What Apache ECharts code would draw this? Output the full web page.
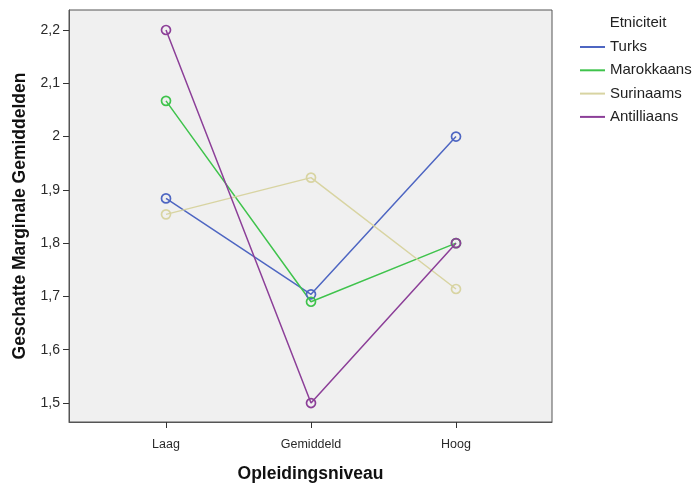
<!DOCTYPE html>
<html>
<head>
<meta charset="utf-8">
<script src="https://cdn.jsdelivr.net/npm/echarts@6/dist/echarts.min.js"></script>
<style>html,body{margin:0;padding:0;background:#fff;}#c{width:698px;height:483px;}</style>
</head>
<body>
<div id="c"></div>
<script>
var categories = ['Laag', 'Gemiddeld', 'Hoog'];
var seriesNames = ['Turks', 'Marokkaans', 'Surinaams', 'Antilliaans'];
var turks = [1.884, 1.704, 2.0];
var marokkaans = [2.067, 1.690, 1.800];
var surinaams = [1.854, 1.923, 1.714];
var antilliaans = [2.2, 1.5, 1.8];
var yTicks = [1.5, 1.6, 1.7, 1.8, 1.9, 2.0, 2.1, 2.2];
var colors = ['#4e66c2', '#3fc34c', '#d8d4a2', '#8c3f98'];
var FONT = 'Liberation Sans, Arial, sans-serif';

var allData = [turks, marokkaans, surinaams, antilliaans];
var series = allData.map(function (vals, i) {
  return {
    name: seriesNames[i],
    type: 'line',
    data: vals.map(function (v, j) { return [j, v]; }),
    symbol: 'circle',
    symbolSize: 9,
    color: colors[i],
    lineStyle: { color: colors[i], width: 1.5 },
    itemStyle: { color: 'rgba(0,0,0,0)', borderColor: colors[i], borderWidth: 1.7 },
    emphasis: { disabled: true },
    animation: false
  };
});

var chart = echarts.init(document.getElementById('c'), null, { renderer: 'canvas' });
chart.setOption({
  animation: false,
  grid: {
    left: 69, top: 10, width: 483, height: 412,
    outerBoundsMode: 'none', containLabel: false,
    show: true, backgroundColor: '#f0f0f0', borderColor: '#555', borderWidth: 1
  },
  legend: {
    orient: 'vertical',
    left: 580, top: 39, padding: 0,
    itemWidth: 25, itemHeight: 2, itemGap: 7.3,
    icon: 'rect',
    textStyle: { fontFamily: FONT, fontSize: 15, lineHeight: 16, color: '#222' },
    data: seriesNames.map(function (n, i) {
      return { name: n, itemStyle: { color: colors[i], borderWidth: 0 } };
    })
  },
  graphic: [{
    type: 'text', x: 638, y: 23,
    style: { text: 'Etniciteit', font: '15px "Liberation Sans", Arial, sans-serif', fill: '#222',
             textAlign: 'center', textVerticalAlign: 'middle' }
  }],
  xAxis: {
    type: 'value',
    min: -0.669, max: 2.662,
    splitLine: { show: false },
    axisLine: { show: true, onZero: false, lineStyle: { color: '#555' } },
    axisTick: { show: true, customValues: [0, 1, 2], length: 6, lineStyle: { color: '#333' } },
    axisLabel: {
      customValues: [0, 1, 2], margin: 16,
      formatter: function (v) { return categories[Math.round(v)]; },
      fontFamily: FONT, fontSize: 12.5, color: '#2a2a2a'
    },
    name: 'Opleidingsniveau',
    nameLocation: 'middle', nameGap: 43,
    nameTextStyle: { fontFamily: FONT, fontSize: 17.5, fontWeight: 'bold', color: '#111' }
  },
  yAxis: {
    type: 'value',
    min: 1.4644, max: 2.2375,
    splitLine: { show: false },
    axisLine: { show: true, onZero: false, lineStyle: { color: '#555' } },
    axisTick: { show: true, customValues: yTicks, length: 6, lineStyle: { color: '#333' } },
    axisLabel: {
      customValues: yTicks, margin: 9,
      formatter: function (v) {
        var s = (Math.round(v * 10) / 10).toString();
        return s.replace('.', ',');
      },
      fontFamily: FONT, fontSize: 14, color: '#2a2a2a'
    },
    name: 'Geschatte Marginale Gemiddelden',
    nameLocation: 'middle', nameGap: 40,
    nameTextStyle: { fontFamily: FONT, fontSize: 17.5, fontWeight: 'bold', color: '#111' }
  },
  series: series
});
</script>
</body>
</html>
